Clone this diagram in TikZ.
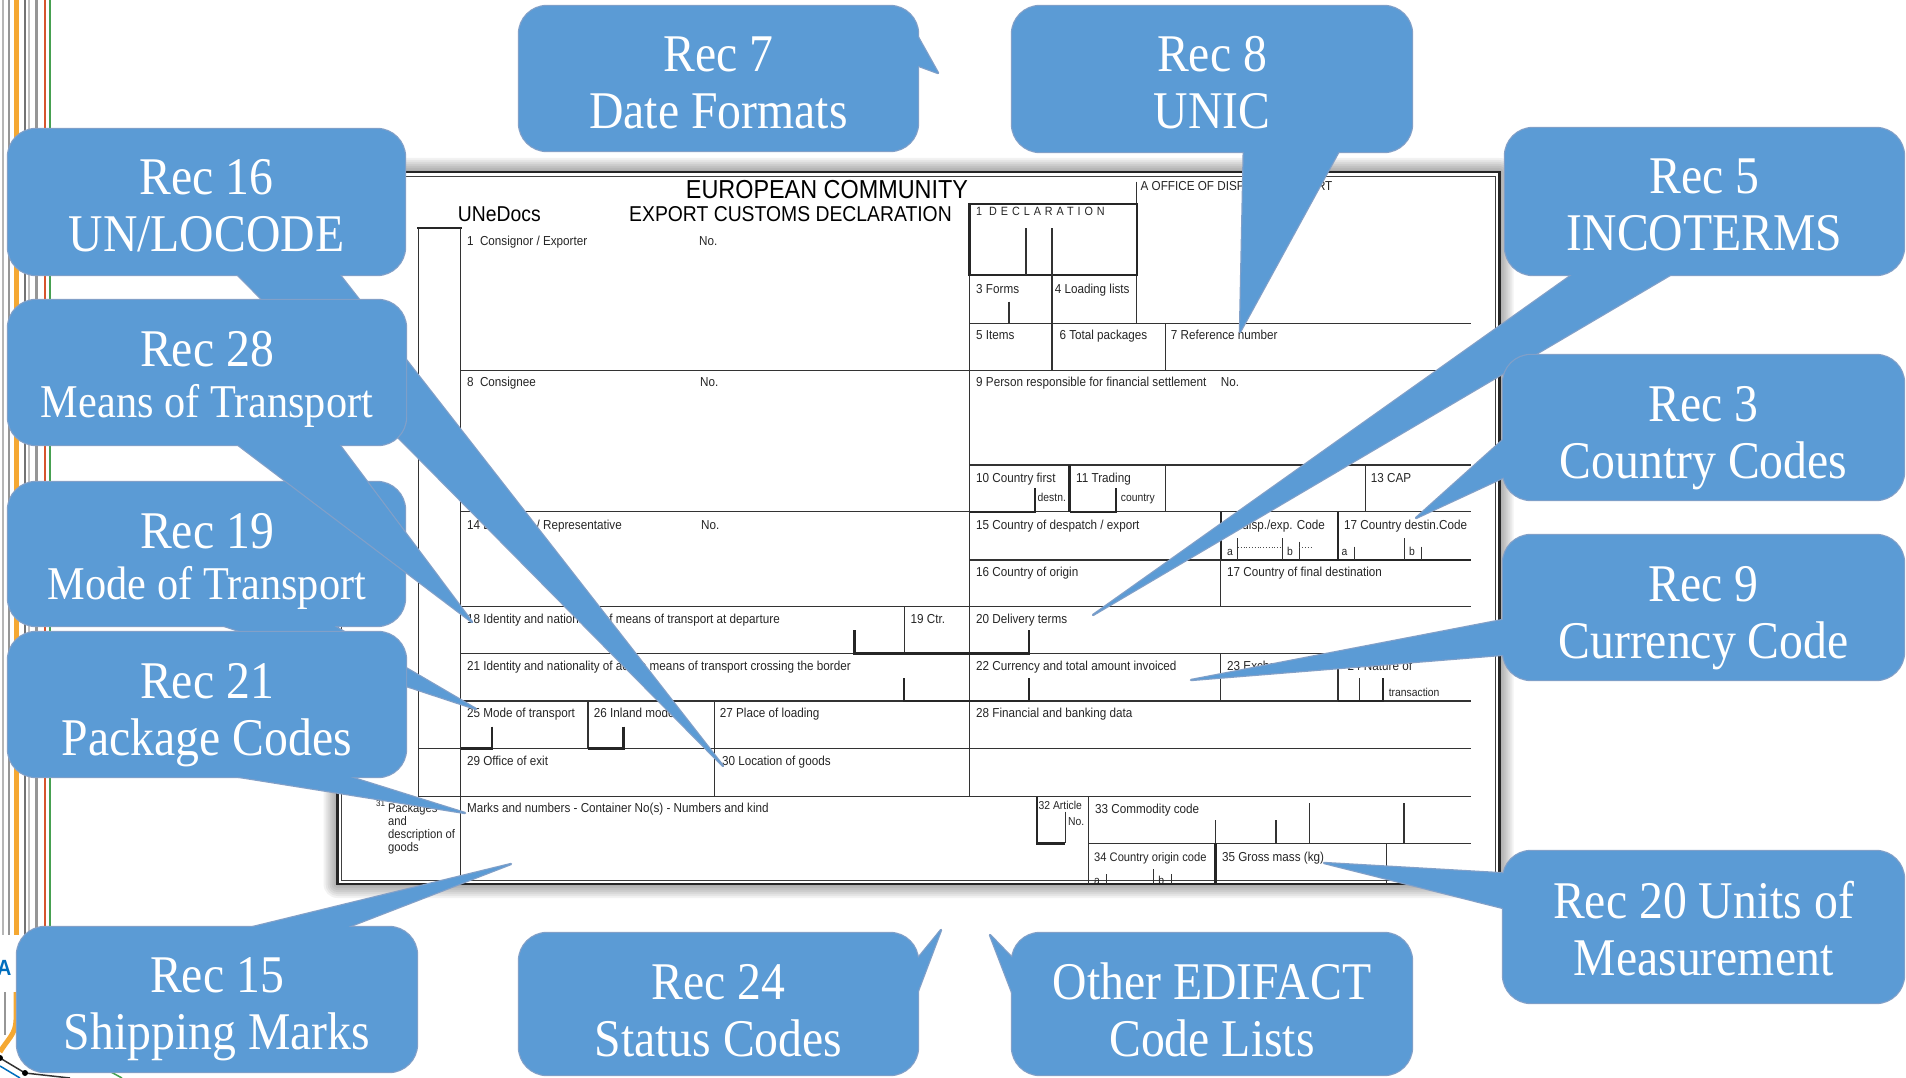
\documentclass[tikz,border=0pt]{standalone}
\usepackage{fontspec}
\newfontfamily\calloutfont[FakeStretch=0.9]{Liberation Serif}
\newfontfamily\formfont[FakeStretch=0.9]{Liberation Sans}
\definecolor{coblue}{RGB}{91,155,213}
\definecolor{coedge}{RGB}{130,160,200}
\definecolor{lnorange}{RGB}{245,168,50}
\definecolor{lnred}{RGB}{215,85,45}
\definecolor{lngreen}{RGB}{70,160,80}
\definecolor{lngray}{RGB}{150,150,150}
\definecolor{lnblue}{RGB}{0,110,190}
\newcommand\mycallout[2]{%
  \draw[coline,rounded corners=28pt] #1;
  \draw[coline] #2;
  \fill[coblue,rounded corners=28pt] #1;
  \fill[coblue] #2 -- cycle;}
\newcommand\twol[2]{\begin{tabular}[t]{@{}c@{}}#1\\#2\end{tabular}}
\newcommand\twols[2]{\begin{tabular}[t]{@{}c@{}}#1\\[-6pt]\fontsize{47}{57}\selectfont #2\end{tabular}}
\begin{document}
\begin{tikzpicture}[x=1pt,y=-1pt,
  coline/.style={draw=coedge,line width=2.4pt,line join=round},
  ctext/.style={text=white,font=\calloutfont\fontsize{53}{57}\selectfont,anchor=base,inner sep=0pt},
  lbl/.style={font=\formfont\fontsize{13}{13.3}\selectfont,anchor=base west,inner sep=0pt,text=black!85},
  sml/.style={font=\formfont\fontsize{11.5}{12}\selectfont,anchor=base west,inner sep=0pt,text=black!85},
  fl/.style={draw=black!80,line width=1.2pt},
  fb/.style={draw=black!85,line width=2.4pt}]
\useasboundingbox (0,0) rectangle (1906,1078);
\fill[white] (0,0) rectangle (1906,1078);

% background decoration at left edge
\draw[lngray!70,line width=2.5pt] (3,0) -- (3,935);
\draw[lngray,line width=1.2pt] (9,0) -- (9,935);
\draw[lnorange,line width=5pt] (16,0) -- (16,935);
\draw[black!55,line width=1.2pt] (25,0) -- (25,935);
\draw[lngray!60,line width=1.5pt] (29,0) -- (29,935);
\draw[lngray,line width=3pt] (36,0) -- (36,935);
\draw[lnred,line width=2.5pt] (45,0) -- (45,935);
\draw[lngreen,line width=1.5pt] (50,0) -- (50,935);
\node[font=\formfont\bfseries\fontsize{22}{22}\selectfont,text=lnblue,anchor=west,inner sep=0pt] (bgA) at (-3,968) {A};
\draw[lnorange,line width=5pt] (16,992) -- (16,1020) to[out=-90,in=60] (0,1052);
\draw[lngray,line width=2pt] (5,992) -- (5,1035);
\draw[black!80,line width=1.5pt] (0,1058) -- (25,1073) -- (70,1078);
\fill[black] (0,1058) circle (3pt) (25,1073) circle (3pt);
\draw[lnblue,line width=1.5pt] (0,1066) -- (20,1078);
\draw[lngreen,line width=1.5pt] (100,1066) -- (122,1078);

% form shadow and page
\foreach \s in {14,12,...,2} {
  \fill[black,opacity=0.05,rounded corners=\s pt] (337.5-\s,172-\s) rectangle (1499.5+\s,884+\s);
}
\fill[white] (337.5,172) rectangle (1499.5,884);
\draw[black!85,line width=2.8pt] (337.5,172) rectangle (1499.5,884);
\draw[black!75,line width=0.9pt] (341.5,176) rectangle (1495.5,880);

% grid
\draw[fl] (418.3,228.3) -- (418.3,796.7);
\draw[fb] (417,228.3) -- (461.8,228.3);
\draw[fl] (460.6,228.3) -- (460.6,884);
\draw[fl] (460.6,370.5) -- (1471,370.5);
\draw[fl] (460.6,511.7) -- (1471,511.7);
\draw[fl] (460.6,606.7) -- (1471,606.7);
\draw[fl] (460.6,653.5) -- (1471,653.5);
\draw[fl] (460.6,701) -- (1471,701);
\draw[fl] (418.3,748.4) -- (1471,748.4);
\draw[fl] (418.3,796.7) -- (1471,796.7);
\draw[fl] (969.5,203) -- (969.5,796.7);
\draw[fl] (1136.8,181.7) -- (1136.8,323.3);
\draw[fb] (969.5,204.3) rectangle (1136.8,275);
\draw[fl] (1026,228.3) -- (1026,275);
\draw[fl] (1052,228.3) -- (1052,370.5);
\draw[fl] (1009,301.7) -- (1009,323.3);
\draw[fl] (969.5,323.3) -- (1471,323.3);
\draw[fl] (1165.4,323.3) -- (1165.4,370.5);
\draw[fl] (969.5,465) -- (1471,465);
\draw[fb] (1069.6,465) -- (1069.6,511.7);
\draw[fl] (1165.4,465) -- (1165.4,511.7);
\draw[fl] (1365.4,465) -- (1365.4,511.7);
\draw[fb] (1035,488) -- (1035,511.7) -- (969.5,511.7);
\draw[fb] (1116,488) -- (1116,511.7) -- (1069.6,511.7);
\draw[fb] (1220.7,511.7) -- (1220.7,560);
\draw[fb] (1337.9,511.7) -- (1337.9,560);
\draw[fl] (969.5,560) -- (1220.7,560);
\draw[fb] (1220.7,560) -- (1471,560);
\draw[fl,line width=0.9pt] (1237.9,538) -- (1237.9,560) (1282.5,538) -- (1282.5,560)
  (1299.3,541.7) -- (1299.3,560) (1354.6,546.7) -- (1354.6,560)
  (1404,538) -- (1404,560) (1421.4,546.7) -- (1421.4,560);
\draw[black!70,dotted,line width=0.8pt] (1237.9,547.3) -- (1282.5,547.3) (1299.3,547.3) -- (1312,547.3);
\draw[fl] (1220.7,560) -- (1220.7,606.7);
\draw[fl] (904.2,606.7) -- (904.2,653.5);
\draw[fb] (854.5,630) -- (854.5,653.5) -- (969.5,653.5);
\draw[fb] (1029,630) -- (1029,653.5) -- (969.5,653.5);
\draw[fb] (904.2,678) -- (904.2,701) -- (969.5,701);
\draw[fb] (1029,678) -- (1029,701) -- (969.5,701);
\draw[fl] (1220.7,653.5) -- (1220.7,701);
\draw[fl] (1338,653.5) -- (1338,701);
\draw[fl] (1359.3,678) -- (1359.3,701);
\draw[fb] (1383.2,678) -- (1383.2,701) -- (1338,701);
\draw[fl] (587.9,701) -- (587.9,748.4);
\draw[fl] (714.7,701) -- (714.7,796.7);
\draw[fb] (491.7,726.7) -- (491.7,748.4) -- (460.6,748.4);
\draw[fb] (623.5,726.7) -- (623.5,748.4) -- (587.9,748.4);
\draw[fb] (1036.8,796.7) -- (1036.8,843.3) -- (1065.4,843.3);
\draw[fl] (1065.4,811.7) -- (1065.4,843.3);
\draw[fl] (1088.6,796.7) -- (1088.6,884);
\draw[fl] (1215.4,820) -- (1215.4,843.3) (1276,820) -- (1276,843.3)
  (1309.3,803) -- (1309.3,843.3) (1404,803) -- (1404,843.3);
\draw[fl] (1088.6,843.3) -- (1471,843.3);
\draw[fb] (1215.4,843.3) -- (1215.4,884);
\draw[fl] (1386.8,843.3) -- (1386.8,884);
\draw[fl,line width=0.9pt] (1106.4,874) -- (1106.4,884) (1153.9,869) -- (1153.9,884) (1171.4,874) -- (1171.4,884);

% form texts
\node[anchor=base west,inner sep=0pt,font=\formfont\fontsize{26}{26}\selectfont] (tEC) at (685.7,199) {EUROPEAN COMMUNITY};
\node[anchor=base west,inner sep=0pt,font=\formfont\fontsize{21.5}{22}\selectfont] (tUN) at (457.7,221.5) {UNeDocs};
\node[anchor=base west,inner sep=0pt,font=\formfont\fontsize{21.5}{22}\selectfont] (tEX) at (629,221.5) {EXPORT CUSTOMS DECLARATION};
\node[lbl] (fA) at (1140.4,191) {A OFFICE OF DISPATCH / EXPORT};
\node[lbl,font=\formfont\fontsize{12}{13}\selectfont\addfontfeature{LetterSpace=33}] (fD) at (976,216) {1 DECLARATION};
\node[lbl] (f1) at (466.8,245) {1\ \ Consignor / Exporter};
\node[lbl] (f1n) at (699,245) {No.};
\node[lbl] (f3) at (976,293.5) {3 Forms};
\node[lbl] (f4) at (1054.6,293.5) {4 Loading lists};
\node[lbl] (f5) at (976,339) {5 Items};
\node[lbl] (f6) at (1059.3,339) {6 Total packages};
\node[lbl] (f7) at (1170.7,339) {7 Reference number};
\node[lbl] (f8) at (466.8,386) {8\ \ Consignee};
\node[lbl] (f8n) at (700,386) {No.};
\node[lbl] (f9) at (976,386) {9 Person responsible for financial settlement};
\node[lbl] (f9n) at (1220.7,386) {No.};
\node[lbl] (f10) at (976,482) {10 Country first};
\node[sml] (f10b) at (1037.5,501) {destn.};
\node[lbl] (f11) at (1076,482) {11 Trading};
\node[sml] (f11b) at (1120.7,501) {country};
\node[lbl] (f13) at (1370.7,482) {13 CAP};
\node[lbl] (f14) at (466.8,529.5) {14 Declarant / Representative};
\node[lbl] (f14n) at (701,529.5) {No.};
\node[lbl] (f15) at (976,529.5) {15 Country of despatch / export};
\node[lbl] (f15c) at (1226,529.5) {15 disp./exp. Code};
\node[lbl] (f17c) at (1344,529.5) {17 Country destin.Code};
\node[sml] (fa1) at (1227,555) {a};
\node[sml] (fb1) at (1286.8,555) {b};
\node[sml] (fa2) at (1341.4,555) {a};
\node[sml] (fb2) at (1409,555) {b};
\node[lbl] (f16) at (976,576) {16 Country of origin};
\node[lbl] (f17) at (1227,576) {17 Country of final destination};
\node[lbl] (f18) at (466.8,623) {18 Identity and nationality of means of transport at departure};
\node[lbl] (f19) at (910.4,623) {19 Ctr.};
\node[lbl] (f20) at (976,623) {20 Delivery terms};
\node[lbl] (f21) at (466.8,670.5) {21 Identity and nationality of active means of transport crossing the border};
\node[lbl] (f22) at (976,670.5) {22 Currency and total amount invoiced};
\node[lbl] (f23) at (1227,670.5) {23 Exchange rate};
\node[lbl] (f24) at (1347.5,670.5) {24 Nature of};
\node[sml] (f24b) at (1388.6,696) {transaction};
\node[lbl] (f25) at (466.8,717.5) {25 Mode of transport};
\node[lbl] (f26) at (593.7,717.5) {26 Inland mode};
\node[lbl] (f27) at (719.7,717.5) {27 Place of loading};
\node[lbl] (f28) at (976,717.5) {28 Financial and banking data};
\node[lbl] (f29) at (466.8,765) {29 Office of exit};
\node[lbl] (f30) at (721.8,765) {30 Location of goods};
\node[lbl,font=\formfont\fontsize{9}{9}\selectfont] (f31n) at (376,806) {31};
\node[lbl,font=\formfont\fontsize{12.5}{13.3}\selectfont] (f31) at (388,812) {\begin{tabular}[t]{@{}l@{}}Packages\\and\\description of\\goods\end{tabular}};
\node[lbl] (fM) at (466.8,812) {Marks and numbers - Container No(s) - Numbers and kind};
\node[sml] (f32) at (1038.5,809) {32 Article};
\node[sml] (f32b) at (1068,825) {No.};
\node[lbl] (f33) at (1095,813) {33 Commodity code};
\node[lbl,font=\formfont\fontsize{12.4}{13}\selectfont] (f34) at (1094,861) {34 Country origin code};
\node[lbl] (f35) at (1221.8,861) {35 Gross mass (kg)};
\node[sml] (fa3) at (1094,884) {a};
\node[sml] (fb3) at (1158.2,884) {b};

% callouts
\mycallout{(519,6) rectangle (918,151)}{(905,14) -- (938,73) -- (908,62)}
\node[ctext] (c7) at (718.5,72) {\twol{Rec 7}{Date Formats}};
\mycallout{(1012,6) rectangle (1412,152)}{(1244,140) -- (1240,332) -- (1345,140)}
\node[ctext] (c8) at (1212,72) {\twol{Rec 8}{UNIC}};
\mycallout{(1505,128) rectangle (1904,275)}{(1586,265) -- (1093,615) -- (1687,265)}
\node[ctext] (c5) at (1704.5,194) {\twol{Rec 5}{INCOTERMS}};
\mycallout{(1503,355) rectangle (1904,500)}{(1513,431) -- (1416,518) -- (1513,473)}
\node[ctext] (c3) at (1703.5,421) {\twol{Rec 3}{Country Codes}};
\mycallout{(1503,535) rectangle (1904,680)}{(1513,618) -- (1191,680) -- (1513,654)}
\node[ctext] (c9) at (1703.5,601) {\twol{Rec 9}{Currency Code}};
\mycallout{(1503,851) rectangle (1904,1003)}{(1515,874) -- (1324,863) -- (1515,911)}
\node[ctext] (c20) at (1703.5,918) {\twol{Rec 20 Units of}{Measurement}};
\mycallout{(8,129) rectangle (405,275)}{(228,265) -- (723,766) -- (332,265)}
\node[ctext] (c16) at (206.5,195) {\twol{Rec 16}{UN/LOCODE}};
\mycallout{(8,482) rectangle (405,626)}{(194,616) -- (476,709) -- (317,616)}
\node[ctext] (c19) at (207,548) {\twols{Rec 19}{Mode of Transport}};
\mycallout{(8,300) rectangle (406,445)}{(225,435) -- (472,622) -- (332,435)}
\node[ctext] (c28) at (207,366) {\twols{Rec 28}{Means of Transport}};
\mycallout{(8,632) rectangle (406,777)}{(177,767) -- (465,813) -- (318,767)}
\node[ctext] (c21) at (207,698) {\twol{Rec 21}{Package Codes}};
\mycallout{(17,927) rectangle (417,1072)}{(212,937) -- (511,864) -- (322,937)}
\node[ctext] (c15) at (217,992) {\twol{Rec 15}{Shipping Marks}};
\mycallout{(519,933) rectangle (918,1075)}{(910,968) -- (941,930) -- (910,1012)}
\node[ctext] (c24) at (718.5,999) {\twol{Rec 24}{Status Codes}};
\mycallout{(1012,933) rectangle (1412,1075)}{(1020,966) -- (990,935) -- (1020,1013)}
\node[ctext] (cE) at (1212,999) {\twol{Other EDIFACT}{Code Lists}};
\end{tikzpicture}
\end{document}
